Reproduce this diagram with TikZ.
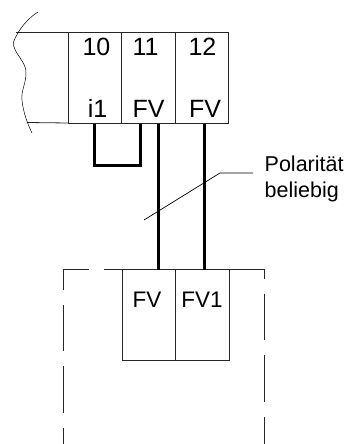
\documentclass[tikz,border=0pt]{standalone}
\usepackage{fontspec}
\setmainfont{Liberation Sans}
\tikzset{
  thinline/.style={draw=black!85,line width=0.8pt},
  wire/.style={draw=black,line width=2.8pt},
  biglabel/.style={font=\fontsize{25}{25}\selectfont,inner sep=0pt,anchor=base},
  midlabel/.style={font=\fontsize{22.5}{22.5}\selectfont,inner sep=0pt,anchor=base},
  sidelabel/.style={font=\fontsize{21.5}{25}\selectfont,inner sep=0pt,anchor=base west},
  terminal/.style={thinline,minimum height=91pt,inner sep=0pt,outer sep=0pt,anchor=north west}
}
\begin{document}
\begin{tikzpicture}[x=1pt,y=-1pt]
\useasboundingbox (0,0) rectangle (348,444);
% upper terminals
\node[terminal,minimum width=53.5pt] (t10) at (68,32) {};
\node[terminal,minimum width=53.5pt] (t11) at (121.5,32) {};
\node[terminal,minimum width=53.5pt] (t12) at (175,32) {};
\node[biglabel] (n10) at (96.5,56) {10};
\node[biglabel] (n11) at (145.5,56) {11};
\node[biglabel] (n12) at (202.5,56) {12};
\node[biglabel] (li1) at (97.5,117) {i1};
\node[biglabel] (lfv11) at (148.5,117) {FV};
\node[biglabel] (lfv12) at (205,117) {FV};
% housing
\coordinate (htop) at (16,32);
\coordinate (hbot) at (27,122.5);
\draw[thinline] (htop) -- (t10.north west);
\draw[thinline] (hbot) -- (t10.south west);
\coordinate (wa) at (38,12);
\coordinate (wb) at (13.5,42);
\coordinate (wc) at (26,73);
\coordinate (wd) at (22,100);
\coordinate (we) at (32,133);
\draw[draw=black,line width=0.5pt] (wa) .. controls (28,18) and (18,30) .. (wb)
  .. controls (12,52) and (27,62) .. (wc)
  .. controls (26,84) and (21,90) .. (wd)
  .. controls (23,112) and (28,125) .. (we);
% lower terminals
\node[terminal,minimum width=53.5pt] (fv) at (122,269) {};
\node[terminal,minimum width=53.5pt] (fva) at (175.5,269) {};
\node[midlabel] (lfv) at (147,307) {FV};
\node[midlabel] (lfva) at (202,307) {FV1};
% jumper
\coordinate (ja) at (94.5,165.5);
\coordinate (jb) at (140.5,165.5);
\coordinate (js) at (94.5,123.5);
\coordinate (je) at (140.5,123.5);
\draw[wire,line join=miter] (js) -- (ja) -- (jb) -- (je);
% wires
\coordinate (w1) at (158.5,123.5);
\coordinate (w2) at (204.5,123.5);
\coordinate (w3) at (158.5,270);
\coordinate (w4) at (204.5,270);
\draw[wire] (w1) -- (w3);
\draw[wire] (w2) -- (w4);
% leader
\coordinate (la) at (144,220);
\coordinate (lb) at (220,173);
\coordinate (lc) at (253,173);
\draw[draw=black,line width=0.7pt] (la) -- (lb) -- (lc);
\node[sidelabel] (pol) at (264.5,171) {Polarität};
\node[sidelabel] (bel) at (264.5,197) {beliebig};
% dashed enclosure
\coordinate (da) at (63,290);
\coordinate (db) at (63,269);
\coordinate (dc) at (89,269);
\coordinate (dd) at (104,269);
\coordinate (de) at (264,269);
\coordinate (df) at (264,279);
\draw[thinline] (da) -- (db) -- (dc);
\draw[thinline] (dd) -- (fv.north west);
\draw[thinline] (fva.north east) -- (de) -- (df);
\coordinate (l1) at (63,305); \coordinate (l2) at (63,351);
\coordinate (l3) at (63,366); \coordinate (l4) at (63,413);
\coordinate (l5) at (63,428); \coordinate (l6) at (63,444);
\draw[thinline] (l1) -- (l2) (l3) -- (l4) (l5) -- (l6);
\coordinate (r1) at (264,293.5); \coordinate (r2) at (264,340);
\coordinate (r3) at (264,355); \coordinate (r4) at (264,402);
\coordinate (r5) at (264,417); \coordinate (r6) at (264,444);
\draw[thinline] (r1) -- (r2) (r3) -- (r4) (r5) -- (r6);
\end{tikzpicture}
\end{document}
